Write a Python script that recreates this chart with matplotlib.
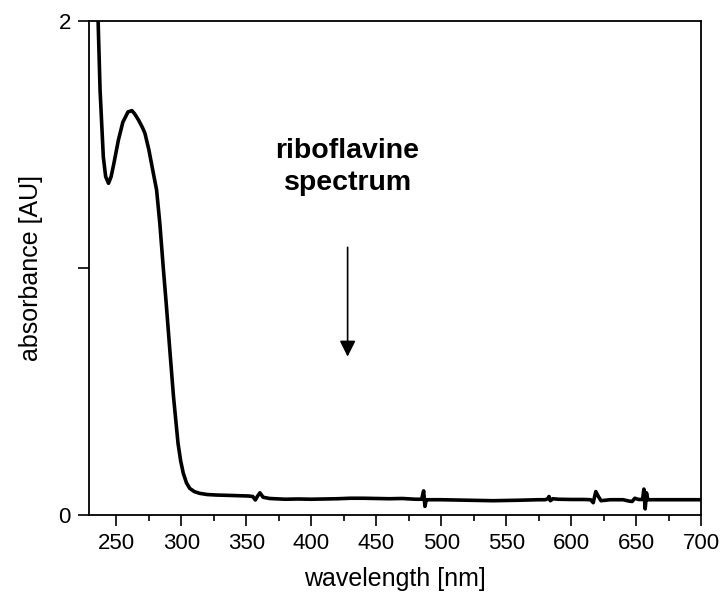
import matplotlib
matplotlib.use('Agg')
import matplotlib.pyplot as plt
from matplotlib.ticker import MultipleLocator

plt.rcParams['font.family'] = ['Liberation Sans', 'DejaVu Sans']

# riboflavine absorption spectrum
wavelength = [233, 235, 236, 237.5, 240, 241.8, 244, 246, 248, 251.6, 255, 259, 262,
              264, 267, 270, 272, 275, 277, 279, 281, 283.5, 286, 288.5, 291, 294,
              297.5, 299.5, 301.5, 304, 306.5, 310, 314, 320, 327, 340, 352, 355,
              357, 358.5, 360.5, 363, 368, 380, 390, 400, 410, 420, 430, 440, 450,
              460, 470, 480, 485, 486.5, 487.5, 488.5, 490, 500, 520, 540, 560, 575,
              580, 582, 583, 584, 586, 590, 600, 610, 615, 617, 619, 621, 623, 630,
              640, 645, 647, 649, 652, 655, 656, 657, 658, 659, 662, 670, 680, 690, 700]
absorbance = [2.6, 2.25, 2.0, 1.72, 1.45, 1.37, 1.343, 1.37, 1.42, 1.518, 1.59, 1.632, 1.637,
              1.625, 1.60, 1.57, 1.546, 1.48, 1.425, 1.37, 1.316, 1.18, 1.01, 0.85, 0.68, 0.48,
              0.29, 0.22, 0.17, 0.13, 0.108, 0.095, 0.088, 0.083, 0.081, 0.079, 0.077, 0.075,
              0.061, 0.075, 0.09, 0.072, 0.067, 0.064, 0.065, 0.064, 0.065, 0.066, 0.068, 0.068, 0.067,
              0.066, 0.067, 0.064, 0.064, 0.098, 0.035, 0.062, 0.062, 0.062, 0.06, 0.058, 0.06, 0.062,
              0.062, 0.066, 0.075, 0.058, 0.066, 0.064, 0.063, 0.063, 0.062, 0.05, 0.095, 0.075, 0.058, 0.062,
              0.062, 0.056, 0.055, 0.068, 0.063, 0.063, 0.105, 0.025, 0.09, 0.062, 0.062, 0.062, 0.062, 0.062, 0.062]

x_ticks = [250, 300, 350, 400, 450, 500, 550, 600, 650, 700]
y_ticks = [0, 1, 2]
y_tick_labels = ['0', '', '2']

fig = plt.figure(figsize=(7.22, 5.92), dpi=100)
ax = fig.add_axes([0.1233, 0.130, 0.8477, 0.8345])

ax.plot(wavelength, absorbance, color='black', linewidth=2.6)

ax.set_xlim(229, 700)
ax.set_ylim(0, 2)
ax.set_xticks(x_ticks)
ax.xaxis.set_minor_locator(MultipleLocator(25))
ax.set_yticks(y_ticks)
ax.set_yticklabels(y_tick_labels)

for s in ax.spines.values():
    s.set_linewidth(1.3)
ax.tick_params(axis='both', which='major', direction='out', length=8, width=1.2,
               labelsize=16, pad=5)
ax.tick_params(axis='x', which='minor', direction='out', length=4, width=1.2)

ax.set_xlabel('wavelength [nm]', fontsize=18, labelpad=9)
ax.set_ylabel('absorbance [AU]', fontsize=18, labelpad=11)

ax.text(428, 1.41, 'riboflavine\nspectrum', ha='center', va='center',
        fontsize=20.5, fontweight='bold', linespacing=1.3)
ax.annotate('', xy=(428, 0.63), xytext=(428, 1.095),
            arrowprops=dict(arrowstyle='-|>', color='black', lw=1.2,
                            mutation_scale=24))

fig.savefig('out.png', dpi=100)
